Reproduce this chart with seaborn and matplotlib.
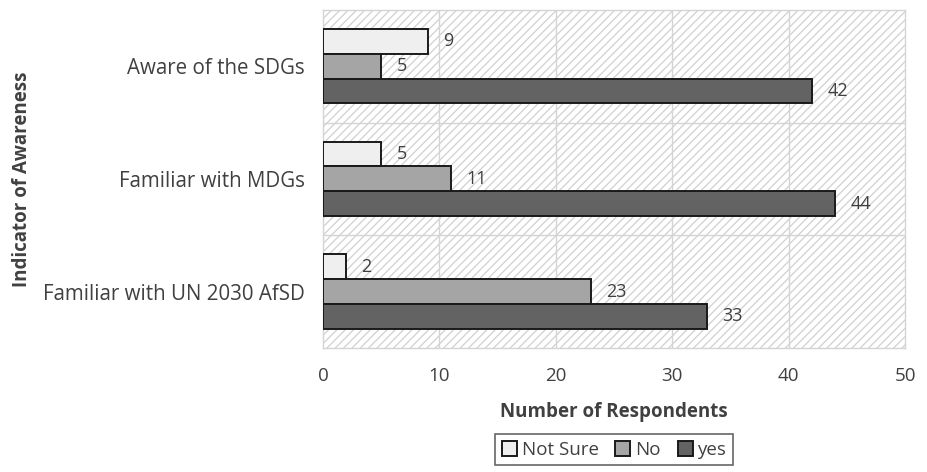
import matplotlib
matplotlib.use("Agg")
import matplotlib.pyplot as plt
import seaborn as sns
import pandas as pd
from matplotlib.patches import Rectangle

categories = ["Aware of the SDGs", "Familiar with MDGs", "Familiar with UN 2030 AfSD"]
not_sure = [9, 5, 2]
no = [5, 11, 23]
yes = [42, 44, 33]
series = ["Not Sure", "No", "yes"]
colors = ["#efefef", "#a5a5a5", "#636363"]

rows = []
for i, c in enumerate(categories):
    for s, vals in zip(series, [not_sure, no, yes]):
        rows.append({"Indicator": c, "Response": s, "Value": vals[i]})
df = pd.DataFrame(rows)

sns.set_theme(style="white")
plt.rcParams["font.family"] = ["Open Sans", "DejaVu Sans"]
plt.rcParams["hatch.color"] = "#d0d0d0"
plt.rcParams["hatch.linewidth"] = 0.9

fig = plt.figure(figsize=(9.27, 4.72), dpi=100)
ax = fig.add_axes([0.3484, 0.263, 0.6279, 0.716])

# hatched background
bg = Rectangle((0, 0), 1, 1, transform=ax.transAxes, facecolor="white",
               edgecolor="#d0d0d0", hatch="////", linewidth=0, zorder=0)
ax.add_patch(bg)

sns.barplot(data=df, y="Indicator", x="Value", hue="Response",
            order=categories, hue_order=series, palette=colors,
            width=0.66, edgecolor="#1a1a1a", linewidth=1.4, ax=ax, zorder=3,
            legend=True)

for container in ax.containers:
    ax.bar_label(container, padding=11, fontsize=13, color="#404040")

ax.set_xlim(0, 50)
ax.set_ylim(2.5, -0.5)
ax.set_xticks([0, 10, 20, 30, 40, 50])
for x in [10, 20, 30, 40]:
    ax.axvline(x, color="#d4d4d4", linewidth=1, zorder=1)
for y in [0.5, 1.5]:
    ax.axhline(y, color="#d4d4d4", linewidth=1, zorder=1)
for sp in ax.spines.values():
    sp.set_color("#d4d4d4")
    sp.set_linewidth(1)

ax.tick_params(axis="both", length=0, labelsize=13.5, labelcolor="#404040")
ax.tick_params(axis="y", pad=13, labelsize=14.8)
ax.tick_params(axis="x", pad=14)
ax.set_xlabel("Number of Respondents", fontsize=13.5, fontweight="bold", color="#404040", labelpad=12)
ax.set_ylabel("Indicator of Awareness", fontsize=13.5, fontweight="bold", color="#404040")
ax.yaxis.set_label_coords(-0.50, 0.5)

leg = ax.legend(loc="upper center", bbox_to_anchor=(0.5, -0.228), ncol=3,
                frameon=True, fontsize=13.5, handlelength=0.8, handleheight=0.8,
                handletextpad=0.25, columnspacing=0.9, borderpad=0.35,
                fancybox=False, labelcolor="#404040")
leg.get_frame().set_edgecolor("#404040")
leg.get_frame().set_linewidth(1.2)

fig.savefig("out.png", dpi=100)
